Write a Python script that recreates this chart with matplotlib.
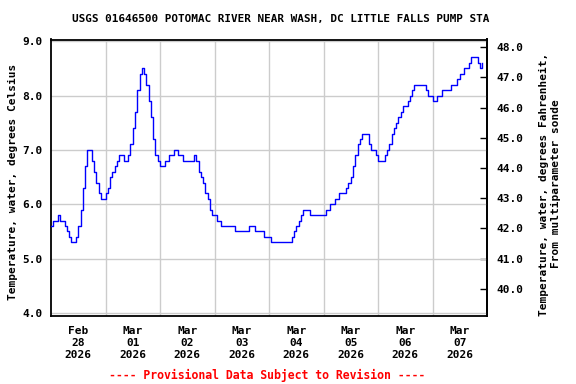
import matplotlib
matplotlib.use("Agg")
import matplotlib.pyplot as plt
import matplotlib.dates as mdates
import pandas as pd
import numpy as np

# Hourly water temperature readings (deg C), starting 2026-02-28 00:00
start_time = "2026-02-28 00:00"
temp_c = [
    # Feb 28
    5.6, 5.7, 5.7, 5.8, 5.7, 5.7, 5.6, 5.5, 5.4, 5.3, 5.3, 5.4,
    5.6, 5.9, 6.3, 6.7, 7.0, 7.0, 6.8, 6.6, 6.4, 6.2, 6.1, 6.1,
    # Mar 01
    6.2, 6.3, 6.5, 6.6, 6.7, 6.8, 6.9, 6.9, 6.8, 6.8, 6.9, 7.1,
    7.4, 7.7, 8.1, 8.4, 8.5, 8.4, 8.2, 7.9, 7.6, 7.2, 6.9, 6.8,
    # Mar 02
    6.7, 6.7, 6.8, 6.8, 6.9, 6.9, 7.0, 7.0, 6.9, 6.9, 6.8, 6.8,
    6.8, 6.8, 6.8, 6.9, 6.8, 6.6, 6.5, 6.4, 6.2, 6.1, 5.9, 5.8,
    # Mar 03
    5.8, 5.7, 5.7, 5.6, 5.6, 5.6, 5.6, 5.6, 5.6, 5.5, 5.5, 5.5,
    5.5, 5.5, 5.5, 5.6, 5.6, 5.6, 5.5, 5.5, 5.5, 5.5, 5.4, 5.4,
    # Mar 04
    5.4, 5.3, 5.3, 5.3, 5.3, 5.3, 5.3, 5.3, 5.3, 5.3, 5.4, 5.5,
    5.6, 5.7, 5.8, 5.9, 5.9, 5.9, 5.8, 5.8, 5.8, 5.8, 5.8, 5.8,
    # Mar 05
    5.8, 5.9, 5.9, 6.0, 6.0, 6.1, 6.1, 6.2, 6.2, 6.2, 6.3, 6.4,
    6.5, 6.7, 6.9, 7.1, 7.2, 7.3, 7.3, 7.3, 7.1, 7.0, 7.0, 6.9,
    # Mar 06
    6.8, 6.8, 6.8, 6.9, 7.0, 7.1, 7.3, 7.4, 7.5, 7.6, 7.7, 7.8,
    7.8, 7.9, 8.0, 8.1, 8.2, 8.2, 8.2, 8.2, 8.2, 8.1, 8.0, 8.0,
    # Mar 07
    7.9, 7.9, 8.0, 8.0, 8.1, 8.1, 8.1, 8.1, 8.2, 8.2, 8.2, 8.3,
    8.4, 8.4, 8.5, 8.5, 8.6, 8.7, 8.7, 8.7, 8.6, 8.5, 8.6,
]
day_labels = ["Feb\n28\n2026", "Mar\n01\n2026", "Mar\n02\n2026", "Mar\n03\n2026",
              "Mar\n04\n2026", "Mar\n05\n2026", "Mar\n06\n2026", "Mar\n07\n2026"]
c_ticks = [4.0, 5.0, 6.0, 7.0, 8.0, 9.0]
f_ticks = [40.0, 41.0, 42.0, 43.0, 44.0, 45.0, 46.0, 47.0, 48.0]

title = "USGS 01646500 POTOMAC RIVER NEAR WASH, DC LITTLE FALLS PUMP STA"
left_label = "Temperature, water, degrees Celsius"
right_label = "Temperature, water, degrees Fahrenheit,\nFrom multiparameter sonde"
footer = "---- Provisional Data Subject to Revision ----"

times = pd.date_range(start_time, periods=len(temp_c), freq="h")
day0 = pd.Timestamp(start_time)
x_start = day0
x_end = day0 + pd.Timedelta(days=8)
noon_ticks = [day0 + pd.Timedelta(days=i, hours=12) for i in range(8)]
midnight_ticks = [day0 + pd.Timedelta(days=i) for i in range(1, 8)]

FONT = "DejaVu Sans Mono"
fs = 8

fig = plt.figure(figsize=(5.76, 3.84), dpi=100)
ax = fig.add_axes([51/576, 1-316/384, (487-51)/576, (316-39.5)/384])

ax.plot(times, temp_c, color="#0000FF", lw=1.0, drawstyle="steps-post", zorder=3)

ax.set_xlim(x_start, x_end)
ax.set_ylim(3.945, 9.03)

ax.set_xticks(noon_ticks)
ax.set_xticklabels(day_labels, fontfamily=FONT, fontweight="bold", fontsize=fs,
                   linespacing=1.25)
ax.set_xticks(midnight_ticks, minor=True)
ax.tick_params(axis="x", which="both", length=0, pad=7)
ax.grid(True, axis="x", which="minor", color="#cccccc", lw=1.0)
ax.grid(False, axis="x", which="major")

ax.set_yticks(c_ticks)
ax.set_yticklabels([f"{v:.1f}" for v in c_ticks], fontfamily=FONT,
                   fontweight="bold", fontsize=fs)
ax.tick_params(axis="y", length=0, pad=6)
ax.grid(True, axis="y", color="#cccccc", lw=1.0)
ax.set_axisbelow(True)

for s in ax.spines.values():
    s.set_linewidth(1.3)
    s.set_color("black")

sec = ax.secondary_yaxis("right", functions=(lambda c: c * 1.8 + 32,
                                             lambda f: (f - 32) / 1.8))
sec.set_yticks(f_ticks)
sec.set_yticklabels([f"{v:.1f}" for v in f_ticks], fontfamily=FONT,
                    fontweight="bold", fontsize=fs)
sec.tick_params(axis="y", direction="in", length=5, width=1, pad=7)
sec.spines["right"].set_linewidth(1.3)

fig.text(281/576, 1-19/384, title, ha="center", va="center",
         fontfamily=FONT, fontweight="bold", fontsize=7.9)
fig.text(13/576, 1-182/384, left_label, rotation=90, ha="center", va="center",
         fontfamily=FONT, fontweight="bold", fontsize=fs)
fig.text(550/576, 1-184/384, right_label, rotation=90, ha="center", va="center",
         multialignment="center", fontfamily=FONT, fontweight="bold",
         fontsize=fs, linespacing=1.15)
fig.text(267/576, 1-375/384, footer, ha="center", va="center", color="#FF0000",
         fontfamily=FONT, fontweight="bold", fontsize=8.3)

fig.savefig("out.png", dpi=100)
